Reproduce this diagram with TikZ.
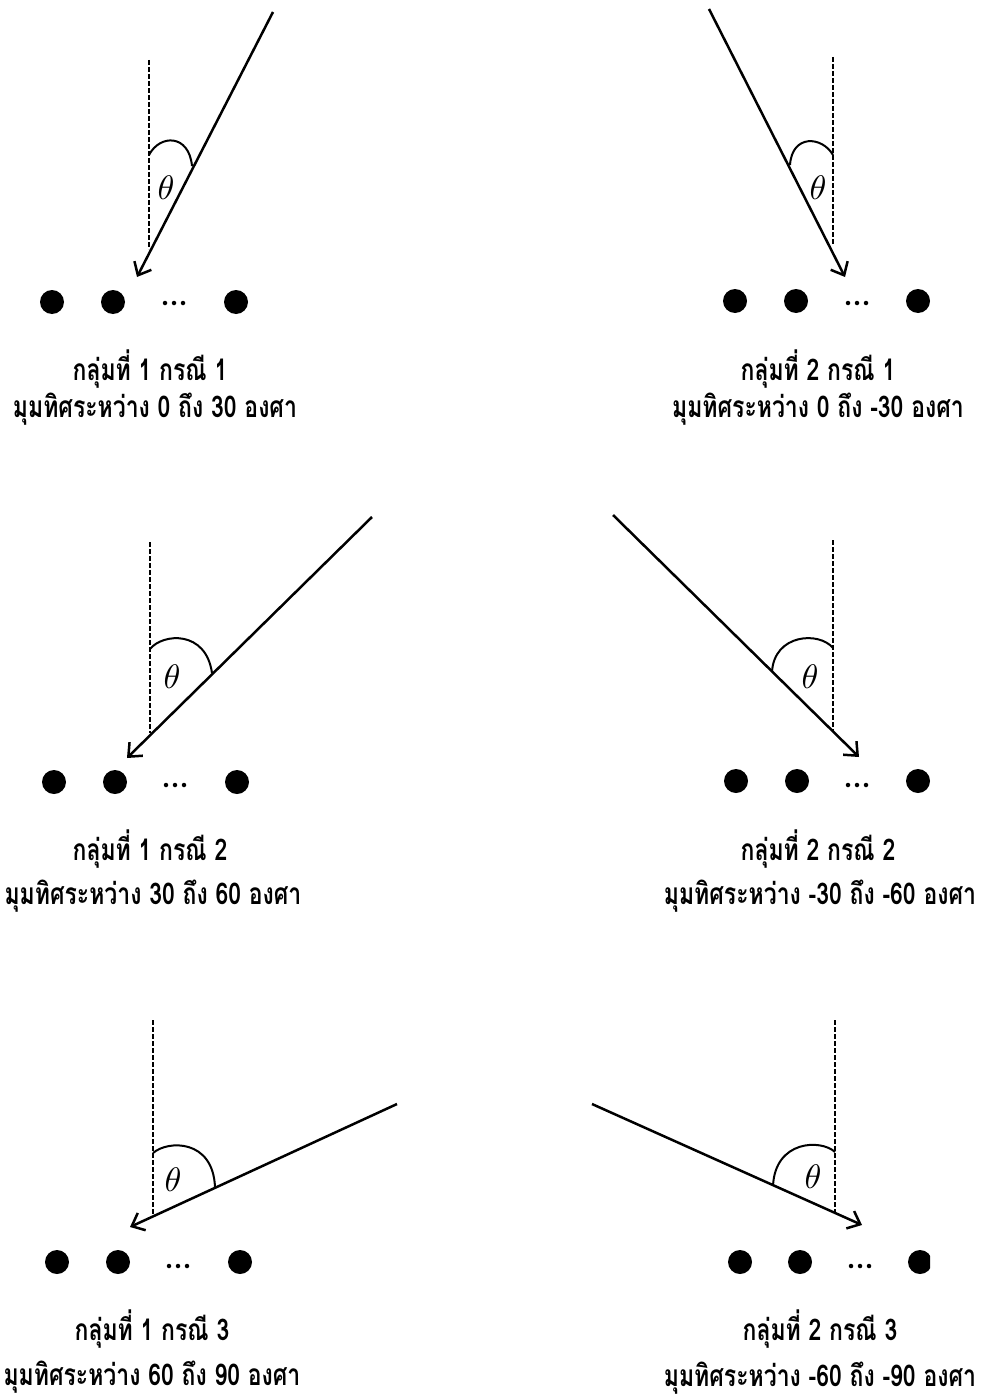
\documentclass[tikz,border=0pt]{standalone}
\usepackage{fontspec}
\usepackage{graphicx}
\newfontfamily\thaifont[Script=Thai]{Loma}
\usetikzlibrary{arrows.meta}
\tikzset{
  ray/.style={line width=2.5pt, -{Straight Barb[length=11pt,width=19pt,line width=2.5pt]}},
  normal/.style={line width=2.8pt, dash pattern=on 5pt off 2pt},
  anglemark/.style={line width=2pt},
  thetalab/.style={inner sep=0pt},
  atom/.style={circle, fill=black, minimum size=24pt, inner sep=0pt},
  dotsmall/.style={circle, fill=black, minimum size=4.5pt, inner sep=0pt},
  captxt/.style={font=\thaifont\bfseries\fontsize{23}{28}\selectfont, inner sep=0pt, text height=0.8em, text depth=0.25em}
}
\newcommand\thetasym{\scalebox{3.4}{$\theta$}}
\newcommand\capt[1]{\scalebox{1}[1.3]{#1}}
\begin{document}
\begin{tikzpicture}[x=1pt,y=-1pt]
\useasboundingbox (0,0) rectangle (988,1399);
\fill[white] (0,0) rectangle (988,1399);

% ---------- Panel 1 ----------
\coordinate (s1) at (273,12); \coordinate (t1) at (137,277);
\coordinate (n1a) at (149,60); \coordinate (n1b) at (149,249);
\draw[normal] (n1a) -- (n1b);
\draw[ray] (s1) -- (t1);
\coordinate (a1s) at (149,155); \coordinate (a1e) at (192,166);
\draw[anglemark] (a1s) .. controls (160,134) and (189,134) .. (a1e);
\node[thetalab] (th1) at (166,188) {\thetasym};
\node[atom] (d1a) at (52,302) {}; \node[atom] (d1b) at (113,302) {}; \node[atom] (d1c) at (236,302) {};
\node[dotsmall] (e1a) at (165,303) {}; \node[dotsmall] (e1b) at (174,303) {}; \node[dotsmall] (e1c) at (183,303) {};
\node[captxt] (c1a) at (150,378) {\capt{กลุ่มที่ 1 กรณี 1}};
\node[captxt] (c1b) at (155,415) {\capt{มุมทิศระหว่าง 0 ถึง 30 องศา}};

% ---------- Panel 2 ----------
\coordinate (s2) at (709,9); \coordinate (t2) at (845,277);
\coordinate (n2a) at (833,57); \coordinate (n2b) at (833,245);
\draw[normal] (n2a) -- (n2b);
\draw[ray] (s2) -- (t2);
\coordinate (a2s) at (790,165); \coordinate (a2e) at (833,155);
\draw[anglemark] (a2s) .. controls (792,134) and (822,136) .. (a2e);
\node[thetalab] (th2) at (818,188) {\thetasym};
\begin{scope}
\clip (0,0) rectangle (930,1399);
\node[atom] (d2a) at (735,301) {}; \node[atom] (d2b) at (796,301) {}; \node[atom] (d2c) at (918,301) {};
\end{scope}
\node[dotsmall] (e2a) at (848,303) {}; \node[dotsmall] (e2b) at (857,303) {}; \node[dotsmall] (e2c) at (866,303) {};
\node[captxt] (c2a) at (818,378) {\capt{กลุ่มที่ 2 กรณี 1}};
\node[captxt] (c2b) at (818,415) {\capt{มุมทิศระหว่าง 0 ถึง -30 องศา}};

% ---------- Panel 3 ----------
\coordinate (s3) at (372,517); \coordinate (t3) at (127,758);
\coordinate (n3a) at (150,542); \coordinate (n3b) at (150,733);
\draw[normal] (n3a) -- (n3b);
\draw[ray] (s3) -- (t3);
\coordinate (a3s) at (150,649); \coordinate (a3e) at (212,673);
\draw[anglemark] (a3s) .. controls (163,633) and (206,630) .. (a3e);
\node[thetalab] (th3) at (172,677) {\thetasym};
\node[atom] (d3a) at (54,782) {}; \node[atom] (d3b) at (115,782) {}; \node[atom] (d3c) at (237,782) {};
\node[dotsmall] (e3a) at (166,785) {}; \node[dotsmall] (e3b) at (175,785) {}; \node[dotsmall] (e3c) at (184,785) {};
\node[captxt] (c3a) at (150,858) {\capt{กลุ่มที่ 1 กรณี 2}};
\node[captxt] (c3b) at (153,902) {\capt{มุมทิศระหว่าง 30 ถึง 60 องศา}};

% ---------- Panel 4 ----------
\coordinate (s4) at (613,515); \coordinate (t4) at (859,757);
\coordinate (n4a) at (833,540); \coordinate (n4b) at (833,731);
\draw[normal] (n4a) -- (n4b);
\draw[ray] (s4) -- (t4);
\coordinate (a4s) at (772,672); \coordinate (a4e) at (833,648);
\draw[anglemark] (a4s) .. controls (774,634) and (819,631) .. (a4e);
\node[thetalab] (th4) at (810,677) {\thetasym};
\node[atom] (d4a) at (736,781) {}; \node[atom] (d4b) at (797,781) {}; \node[atom] (d4c) at (918,781) {};
\node[dotsmall] (e4a) at (848,785) {}; \node[dotsmall] (e4b) at (857,785) {}; \node[dotsmall] (e4c) at (866,785) {};
\node[captxt] (c4a) at (818,858) {\capt{กลุ่มที่ 2 กรณี 2}};
\node[captxt] (c4b) at (820,902) {\capt{มุมทิศระหว่าง -30 ถึง -60 องศา}};

% ---------- Panel 5 ----------
\coordinate (s5) at (397,1104); \coordinate (t5) at (130,1227);
\coordinate (n5a) at (153,1020); \coordinate (n5b) at (153,1215);
\draw[normal] (n5a) -- (n5b);
\draw[ray] (s5) -- (t5);
\coordinate (a5s) at (153,1153); \coordinate (a5e) at (215,1187);
\draw[anglemark] (a5s) .. controls (168,1140) and (213,1139) .. (a5e);
\node[thetalab] (th5) at (173,1180) {\thetasym};
\node[atom] (d5a) at (57,1262) {}; \node[atom] (d5b) at (118,1262) {}; \node[atom] (d5c) at (240,1262) {};
\node[dotsmall] (e5a) at (169,1266) {}; \node[dotsmall] (e5b) at (178,1266) {}; \node[dotsmall] (e5c) at (187,1266) {};
\node[captxt] (c5a) at (152,1338) {\capt{กลุ่มที่ 1 กรณี 3}};
\node[captxt] (c5b) at (152,1383) {\capt{มุมทิศระหว่าง 60 ถึง 90 องศา}};

% ---------- Panel 6 ----------
\coordinate (s6) at (592,1104); \coordinate (t6) at (862,1225);
\coordinate (n6a) at (835,1020); \coordinate (n6b) at (835,1213);
\draw[normal] (n6a) -- (n6b);
\draw[ray] (s6) -- (t6);
\coordinate (a6s) at (773,1186); \coordinate (a6e) at (835,1152);
\draw[anglemark] (a6s) .. controls (775,1140) and (821,1139) .. (a6e);
\node[thetalab] (th6) at (813,1177) {\thetasym};
\begin{scope}
\clip (0,0) rectangle (930,1399);
\node[atom] (d6a) at (740,1262) {}; \node[atom] (d6b) at (800,1262) {}; \node[atom] (d6c) at (920,1262) {};
\end{scope}
\node[dotsmall] (e6a) at (851,1266) {}; \node[dotsmall] (e6b) at (860,1266) {}; \node[dotsmall] (e6c) at (869,1266) {};
\node[captxt] (c6a) at (820,1338) {\capt{กลุ่มที่ 2 กรณี 3}};
\node[captxt] (c6b) at (820,1384) {\capt{มุมทิศระหว่าง -60 ถึง -90 องศา}};
\end{tikzpicture}
\end{document}
